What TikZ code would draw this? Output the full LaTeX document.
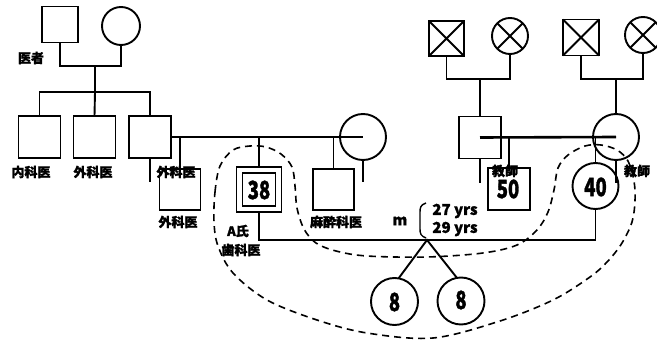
\documentclass[tikz,border=0pt]{standalone}
\usepackage{fontspec}
\newfontfamily\jp[BoldFeatures={FakeBold=1.5}]{Noto Sans CJK JP}
\newcommand{\nm}[1]{\scalebox{0.74}[1]{#1}}
\begin{document}
\begin{tikzpicture}[x=1pt,y=-1pt,
  ln/.style={line width=1.9pt},
  marr/.style={line width=2.6pt},
  sq/.style={draw,line width=1.9pt,rectangle,inner sep=0pt,outer sep=0pt},
  ci/.style={draw,line width=1.9pt,circle,inner sep=0pt,outer sep=0pt},
  lab/.style={font=\jp\bfseries\fontsize{13}{13}\selectfont,inner sep=0pt},
  num/.style={font=\jp\bfseries\fontsize{25}{25}\selectfont,inner sep=0pt},
  yrs/.style={font=\jp\bfseries\fontsize{15}{15}\selectfont,inner sep=0pt},
  dsh/.style={line width=1.6pt,dash pattern=on 7pt off 5pt}]
\useasboundingbox (0,0) rectangle (657,342);

% generation 1 left
\node[sq,minimum size=36pt] (s1) at (60,24.5) {};
\node[ci,minimum size=38pt] (c1) at (121,26) {};
\node[lab] (l1) at (31,58) {医者};
\coordinate (j1) at (95,66);
\coordinate (j2) at (95,92);
\draw[ln] (s1.south) |- (j1) -| (c1.south);
\draw[ln] (j1) -- (j2);

% generation 2 left
\node[sq,minimum size=42pt] (k1) at (39.5,137) {};
\node[sq,minimum size=42pt] (k2) at (94.5,137) {};
\node[sq,minimum size=42pt] (k3) at (150,137) {};
\draw[ln] (k1.north) |- (j2) -| (k3.north);
\draw[ln] (j2) -- (k2.north);
\node[lab] (l2) at (31,172) {内科医};
\node[lab] (l3) at (93,172) {外科医};
\draw[ln] (k3.south) -- ++(0,24);
\node[ci,minimum size=46pt] (w1) at (363,137) {};
\draw[ln] (w1.south) -- ++(0,22);
\draw[marr] (k3.east) -- (w1.center);

% children of k3 and w1
\node[sq,minimum size=41pt] (q1) at (180,189.5) {};
\draw[ln] (q1.north) -- (q1.north |- k3.east);
\node[lab] (l4) at (176,172) {外科医};
\node[lab] (l5) at (178,222) {外科医};

\node[sq,minimum size=45pt] (p38) at (259,189.5) {};
\draw[ln] ([shift={(6,6)}]p38.north west) rectangle ([shift={(-6,-6)}]p38.south east);
\node[num] (t38) at (259,190) {\nm{38}};
\draw[ln] (p38.north) -- (p38.north |- k3.east);
\node[lab] (l6) at (238,231) {A氏};
\node[lab] (l7) at (241,250) {歯科医};

\node[sq,minimum size=41pt] (q2) at (333.5,189.5) {};
\draw[ln] (q2.north) -- (q2.north |- k3.east);
\node[lab] (l8) at (336,222) {麻酔科医};

% generation 1 right
\node[sq,minimum size=35pt] (x1) at (446.5,38.5) {};
\draw[ln] (x1.north west) -- (x1.south east) (x1.north east) -- (x1.south west);
\node[ci,minimum size=36pt] (x2) at (510,36) {};
\draw[ln] (x2.45) -- (x2.225) (x2.135) -- (x2.315);
\coordinate (j3) at (480,79);
\draw[ln] (x1.south) |- (j3) -| (x2.south);

\node[sq,minimum size=36pt] (x3) at (581,37.5) {};
\draw[ln] (x3.north west) -- (x3.south east) (x3.north east) -- (x3.south west);
\node[ci,minimum size=36pt] (x4) at (643,35) {};
\draw[ln] (x4.45) -- (x4.225) (x4.135) -- (x4.315);
\coordinate (j4) at (616,79);
\draw[ln] (x3.south) |- (j4) -| (x4.south);

% generation 2 right
\node[sq,minimum size=42pt] (h) at (480,137.5) {};
\node[ci,minimum size=46pt] (w2) at (616,137) {};
\draw[ln] (j3) -- (h.north);
\draw[ln] (j4) -- (w2.north);
\draw[marr] (h.center) -- (w2.center);
\draw[ln] (h.south) -- ++(0,25);
\draw[ln] (w2.south) -- ++(0,23);

\node[sq,minimum size=42pt] (f50) at (509,189) {};
\draw[ln] (f50.north) -- (f50.north |- h.center);
\node[num] (t50) at (508,189) {\nm{50}};
\node[lab] (l9) at (505,171) {教師};

\node[ci,minimum size=46pt] (c40) at (595.5,186) {};
\draw[ln] (c40.north) -- (c40.north |- h.center);
\node[num] (t40) at (595.5,187) {\nm{40}};
\node[lab] (l10) at (637,171) {教師};

% marriage of 38 and 40
\coordinate (sib) at (427,240);
\draw[ln] (p38.south) |- (sib) -| (c40.south);
\node[lab,font=\jp\bfseries\fontsize{15}{15}\selectfont] (m) at (400,221) {m};
\draw[line width=1.4pt] (426,203) .. controls (420,205) and (420,208) .. (420,213) -- (420,229) .. controls (420,234) and (421,236) .. (426,238);
\node[yrs] (y1) at (455,211) {27 yrs};
\node[yrs] (y2) at (455,229) {29 yrs};

% twins
\node[ci,minimum size=47pt] (c8a) at (394.5,301.5) {};
\node[ci,minimum size=47pt] (c8b) at (461,301) {};
\node[num] (t8a) at (394.5,302) {\nm{8}};
\node[num] (t8b) at (461,300) {\nm{8}};
\draw[ln] (c8a.80) -- (sib) -- (c8b.100);

% household boundary
\draw[dsh] plot[smooth cycle,tension=0.55] coordinates {
 (214,222) (215,192) (220,166) (233,150) (250,146) (266,147) (281,154) (292,167)
 (295,186) (297,208) (304,229) (316,243) (336,251) (367,256) (427,257) (483,253)
 (517,245) (537,230) (548,212) (554,190) (558,168) (568,155) (585,146) (601,145)
 (617,150) (628,161) (634,181) (635,201) (632,222) (622,243) (608,261) (590,277)
 (553,300) (500,321) (433,338) (367,333) (317,320) (267,300) (233,273) (218,246)};
\end{tikzpicture}
\end{document}
